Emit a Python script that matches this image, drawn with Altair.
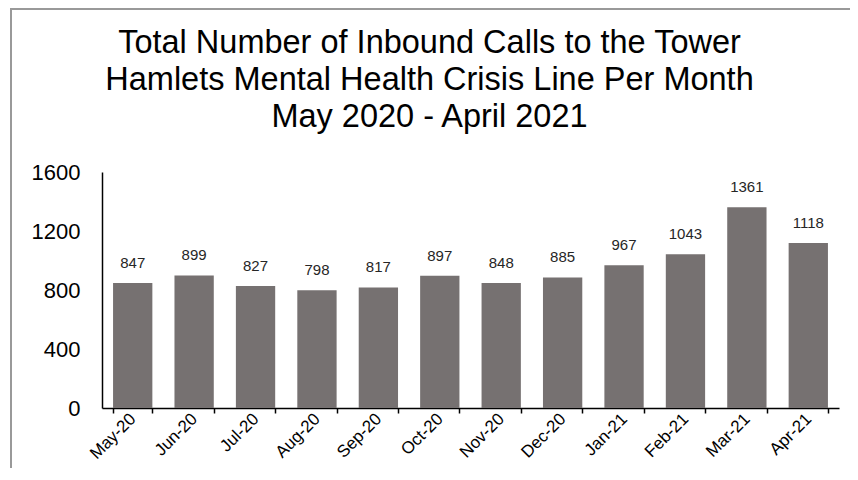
import altair as alt
import pandas as pd

months = ["May-20", "Jun-20", "Jul-20", "Aug-20", "Sep-20", "Oct-20",
          "Nov-20", "Dec-20", "Jan-21", "Feb-21", "Mar-21", "Apr-21"]
calls = [847, 899, 827, 798, 817, 897, 848, 885, 967, 1043, 1361, 1118]
y_ticks = [0, 400, 800, 1200, 1600]
title_lines = ["Total Number of Inbound Calls to the Tower",
               "Hamlets Mental Health Crisis Line Per Month",
               "May 2020 - April 2021"]

df = pd.DataFrame({"month": months, "calls": calls})

FONT = "Liberation Sans"

x_enc = alt.X("month:N", sort=months, title=None,
              scale=alt.Scale(paddingInner=0.36, paddingOuter=0.18),
              axis=alt.Axis(labelAngle=-45, labelAlign="right", labelBaseline="middle",
                            labelFontSize=17, labelFont=FONT,
                            labelColor="#000000", domainColor="#000000",
                            domainWidth=1.5, tickColor="#000000", tickWidth=1.5,
                            tickSize=5, tickBand="extent", labelPadding=3))
y_enc = alt.Y("calls:Q", title=None,
              scale=alt.Scale(domain=[0, 1600], nice=False),
              axis=alt.Axis(values=y_ticks, format="d", ticks=False, tickSize=0,
                            grid=False, labelFontSize=22, labelFont=FONT,
                            labelColor="#000000", labelPadding=22,
                            domainColor="#000000", domainWidth=1.5))

base = alt.Chart(df)

bars = base.mark_bar(color="#767171").encode(x=x_enc, y=y_enc)

labels = base.mark_text(dy=-15, baseline="alphabetic", fontSize=15, font=FONT,
                        color="#262626").encode(
    x=alt.X("month:N", sort=months), y="calls:Q", text="calls:Q")

title = alt.Chart(pd.DataFrame({"k": [0]})).mark_text(
    text=title_lines, fontSize=32.5, font=FONT, color="#000000", align="center",
    baseline="alphabetic", lineHeight=37, clip=False).encode(
    x=alt.value(327.5), y=alt.value(-119))

border = alt.Chart(pd.DataFrame({"k": [0]})).mark_rect(
    fill=None, stroke="#999999", strokeWidth=2, clip=False).encode(
    x=alt.value(-91), x2=alt.value(900), y=alt.value(-163), y2=alt.value(400))

chart = alt.layer(border, bars, labels, title).properties(
    width=737, height=236,
    autosize=alt.AutoSizeParams(type="none"),
    padding={"left": 94, "top": 164, "right": 11, "bottom": 60},
).configure_view(stroke=None)

chart.save("out.html", embed_options={"renderer": "svg", "actions": False})
